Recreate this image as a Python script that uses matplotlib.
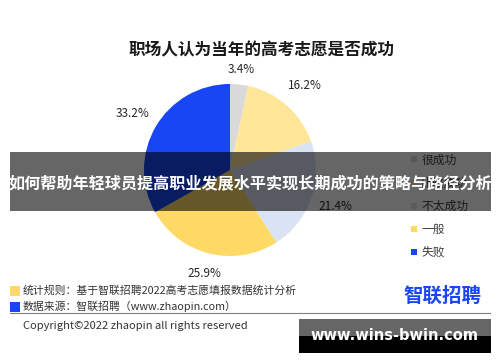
import matplotlib

matplotlib.use("Agg")

import numpy as np
import matplotlib.pyplot as plt
from matplotlib.lines import Line2D
from matplotlib.patches import Rectangle


plt.rcParams["font.family"] = ["Noto Sans CJK SC", "DejaVu Sans"]

TITLE = "职场人认为当年的高考志愿是否成功"
BANNER = "如何帮助年轻球员提高职业发展水平实现长期成功的策略与路径分析"
categories = ["很成功", "比较成功", "不太成功", "一般", "失败"]
shares = [3.4, 16.2, 21.4, 25.9, 33.2]
colors = ["#D9D9D9", "#FFE699", "#DAE3F3", "#FFD966", "#1846F5"]
label_dist = [1.18, 1.31, 1.30, 1.24, 1.31]

W, H = 500, 362


def fx(px):
    return px / W


def fy(py):
    return 1 - py / H


def main():
    fig = plt.figure(figsize=(W / 100, H / 100), dpi=100)
    fig.patch.set_facecolor("white")

    # pie: centre (230, 170), radius 86 px
    ax = fig.add_axes([fx(144), fy(256), 172 / W, 172 / H])
    wedges, _ = ax.pie(
        shares,
        colors=colors,
        startangle=90,
        counterclock=False,
        wedgeprops={"linewidth": 0},
    )
    ax.set_xlim(-1, 1)
    ax.set_ylim(-1, 1)
    ax.set_aspect("equal")
    ax.axis("off")
    for w, s, d in zip(wedges, shares, label_dist):
        ang = np.deg2rad((w.theta1 + w.theta2) / 2)
        ax.text(d * np.cos(ang), d * np.sin(ang), f"{s:.1f}%",
                ha="center", va="center", fontsize=8.5, color="#262626")

    fig.text(fx(262), fy(50), TITLE, ha="center", va="center",
             fontsize=12, fontweight="bold", color="#1a1a1a")

    handles = [
        Line2D([], [], marker="s", linestyle="", markersize=5,
               markerfacecolor=c, markeredgewidth=0)
        for c in colors
    ]
    fig.legend(handles, categories, loc="upper left",
               bbox_to_anchor=(fx(400), fy(143)), frameon=False,
               fontsize=8.5, handlelength=0.6, handletextpad=0.3,
               labelspacing=0.85, labelcolor="#404040")

    # footnotes
    fig.add_artist(Rectangle((fx(10), fy(296)), 10 / W, 10 / H,
                             transform=fig.transFigure, color="#FFD966", lw=0))
    fig.add_artist(Rectangle((fx(10), fy(312)), 10 / W, 10 / H,
                             transform=fig.transFigure, color="#1846F5", lw=0))
    fig.text(fx(23), fy(290), "统计规则：基于智联招聘2022高考志愿填报数据统计分析",
             ha="left", va="center", fontsize=7.8, color="#333333")
    fig.text(fx(23), fy(306), "数据来源：智联招聘（www.zhaopin.com）",
             ha="left", va="center", fontsize=7.8, color="#333333")
    fig.text(fx(442), fy(296), "智联招聘", ha="center", va="center",
             fontsize=14, fontweight="bold", color="#1846F5")
    fig.add_artist(Line2D([fx(10), fx(490)], [fy(313), fy(313)],
                          transform=fig.transFigure, color="#7f7f7f", lw=0.8))
    fig.text(fx(23), fy(326), "Copyright©2022 zhaopin all rights reserved",
             ha="left", va="center", fontsize=8, color="#333333")

    # overlay band
    fig.add_artist(Rectangle((fx(10), fy(211)), 481 / W, 59 / H,
                             transform=fig.transFigure, color="black",
                             alpha=0.6, lw=0, zorder=10))
    fig.text(fx(250), fy(183), BANNER, ha="center", va="center",
             fontsize=11.6, fontweight="bold", color="white", zorder=11)

    # watermark box
    fig.add_artist(Rectangle((fx(299), fy(336)), 192 / W, 17 / H,
                             transform=fig.transFigure, color="#666666",
                             lw=0, zorder=10))
    fig.add_artist(Rectangle((fx(299), fy(353)), 192 / W, 17 / H,
                             transform=fig.transFigure, color="black",
                             lw=0, zorder=10))
    fig.text(fx(394), fy(336), "www.wins-bwin.com", ha="center", va="center",
             fontsize=10.5, fontweight="bold", color="white", zorder=11,
             family=["DejaVu Sans"])

    fig.savefig("out.png", dpi=100)
    plt.close(fig)


if __name__ == "__main__":
    main()
